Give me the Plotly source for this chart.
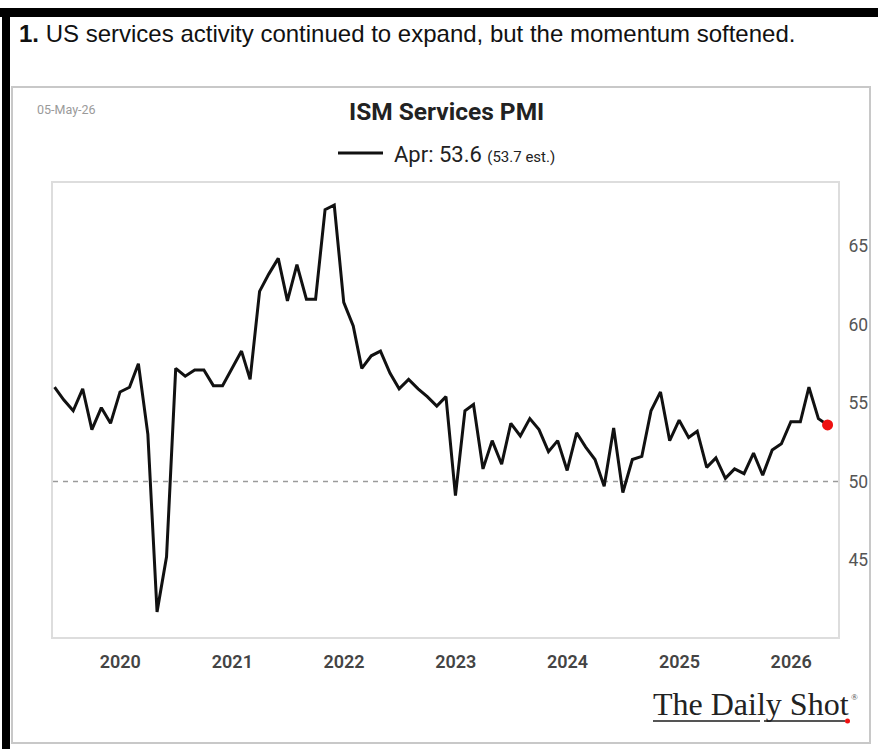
import plotly.graph_objects as go
import pandas as pd

# ---- data (ISM Services PMI, monthly, May 2019 - Apr 2026) ----
pmi_2019 = [56.0, 55.2, 54.5, 55.9, 53.3, 54.7, 53.7, 55.7]            # May-Dec
pmi_2020 = [56.0, 57.5, 53.0, 41.7, 45.2, 57.2, 56.7, 57.1, 57.1, 56.1, 56.1, 57.2]
pmi_2021 = [58.3, 56.5, 62.1, 63.2, 64.2, 61.5, 63.8, 61.6, 61.6, 67.3, 67.6, 61.4]
pmi_2022 = [59.9, 57.2, 58.0, 58.3, 56.9, 55.9, 56.5, 55.9, 55.4, 54.8, 55.4, 49.1]
pmi_2023 = [54.5, 54.9, 50.8, 52.6, 51.1, 53.7, 52.9, 54.0, 53.3, 51.9, 52.6, 50.7]
pmi_2024 = [53.1, 52.2, 51.4, 49.7, 53.4, 49.3, 51.4, 51.6, 54.5, 55.7, 52.6, 53.9]
pmi_2025 = [52.8, 53.2, 50.9, 51.5, 50.2, 50.8, 50.5, 51.8, 50.4, 52.0, 52.4, 53.8]
pmi_2026 = [53.8, 56.0, 54.0, 53.6]                                      # Jan-Apr

values = pmi_2019 + pmi_2020 + pmi_2021 + pmi_2022 + pmi_2023 + pmi_2024 + pmi_2025 + pmi_2026
start_month = "2019-05-01"
dates = (pd.date_range(start_month, periods=len(values), freq="MS") + pd.offsets.MonthEnd(0)).strftime("%Y-%m-%d").tolist()

years = [2020, 2021, 2022, 2023, 2024, 2025, 2026]
year_ticks = [f"{y}-01-01" for y in years]
year_labels = [str(y) for y in years]
y_ticks = [45, 50, 55, 60, 65]
threshold = 50

subtitle = "<b>1.</b> US services activity continued to expand, but the momentum softened."
chart_title = "ISM Services PMI"
legend_label = "Apr: 53.6"
legend_est = "(53.7 est.)"
date_stamp = "05-May-26"

# ---- layout geometry (pixels) ----
FW, FH = 878, 749
L, R, T, B = 53, 40, 183, 112
PW, PH = FW - L - R, FH - T - B


def px(x):
    return (x - L) / PW


def py(y):
    return (FH - B - y) / PH


fig = go.Figure()
fig.add_trace(go.Scatter(
    x=dates, y=values, mode="lines",
    line=dict(color="#111111", width=3),
    showlegend=False, hoverinfo="x+y",
))
fig.add_trace(go.Scatter(
    x=[dates[-1]], y=[values[-1]], mode="markers",
    marker=dict(color="#ee1111", size=11),
    showlegend=False,
))

shapes = [
    # threshold line
    dict(type="line", xref="paper", yref="y", x0=0, x1=1, y0=threshold, y1=threshold,
         line=dict(color="#9a9a9a", width=1.5, dash="5px,5px"), layer="below"),
    # outer panel border
    dict(type="rect", xref="paper", yref="paper", x0=px(12), x1=px(870), y0=py(87), y1=py(743),
         line=dict(color="#c8c8c8", width=2), layer="below"),
    # black frame top & left
    dict(type="rect", xref="paper", yref="paper", x0=px(0), x1=px(878), y0=py(8), y1=py(17),
         fillcolor="#000000", line=dict(width=0)),
    dict(type="rect", xref="paper", yref="paper", x0=px(2), x1=px(10), y0=py(8), y1=py(749),
         fillcolor="#000000", line=dict(width=0)),
    # legend line sample
    dict(type="line", xref="paper", yref="paper", x0=px(338), x1=px(383), y0=py(153), y1=py(153),
         line=dict(color="#111111", width=3)),
    # logo underline
    dict(type="line", xref="paper", yref="paper", x0=px(653), x1=px(760), y0=py(721), y1=py(721),
         line=dict(color="#555555", width=2)),
    dict(type="line", xref="paper", yref="paper", x0=px(764), x1=px(845), y0=py(721), y1=py(721),
         line=dict(color="#555555", width=2)),
    dict(type="circle", xref="paper", yref="paper", x0=px(845), x1=px(850), y0=py(718.5), y1=py(723.5),
         fillcolor="#ee1111", line=dict(width=0)),
]

annotations = [
    dict(text=subtitle, xref="paper", yref="paper", x=px(17), y=py(33), xanchor="left", yanchor="middle",
         showarrow=False, font=dict(family="Liberation Sans, Arial", size=24, color="#111111")),
    dict(text=date_stamp, xref="paper", yref="paper", x=px(35), y=py(110), xanchor="left", yanchor="middle",
         showarrow=False, font=dict(family="Roboto", size=12.5, color="#9a9a9a")),
    dict(text=f"<b>{chart_title}</b>", xref="paper", yref="paper", x=px(446), y=py(111), xanchor="center",
         yanchor="middle", showarrow=False, font=dict(family="Roboto", size=24.5, color="#222222")),
    dict(text=f"{legend_label} <span style='font-size:15px'>{legend_est}</span>", xref="paper", yref="paper",
         x=px(392), y=py(154), xanchor="left", yanchor="middle", showarrow=False,
         font=dict(family="Roboto", size=22, color="#222222")),
    dict(text="The Daily Shot", xref="paper", yref="paper", x=px(651), y=py(704), xanchor="left",
         yanchor="middle", showarrow=False,
         font=dict(family="Liberation Serif, Times New Roman", size=32, color="#222222")),
    dict(text="®", xref="paper", yref="paper", x=px(849), y=py(697), xanchor="left", yanchor="middle",
         showarrow=False, font=dict(family="Liberation Serif", size=9, color="#444444")),
]

fig.update_layout(
    width=FW, height=FH, autosize=False,
    margin=dict(l=L, r=R, t=T, b=B),
    paper_bgcolor="white", plot_bgcolor="white",
    shapes=shapes, annotations=annotations,
    showlegend=False,
    xaxis=dict(
        type="date", range=["2019-05-26", "2026-06-03"],
        tickvals=year_ticks, ticktext=year_labels,
        showgrid=False, zeroline=False,
        showline=True, mirror=True, linecolor="#dddddd", linewidth=2,
        ticks="", ticklabelstandoff=7, automargin=False,
        tickfont=dict(family="Roboto", size=18, color="#444444", weight=600),
    ),
    yaxis=dict(
        range=[40.1, 69.0], side="right",
        tickvals=y_ticks, showgrid=False, zeroline=False,
        showline=True, mirror=True, linecolor="#dddddd", linewidth=2,
        ticks="", ticklabelstandoff=5, automargin=False,
        tickfont=dict(family="Roboto", size=17.5, color="#555555"),
    ),
)

fig.write_html("out.html")
